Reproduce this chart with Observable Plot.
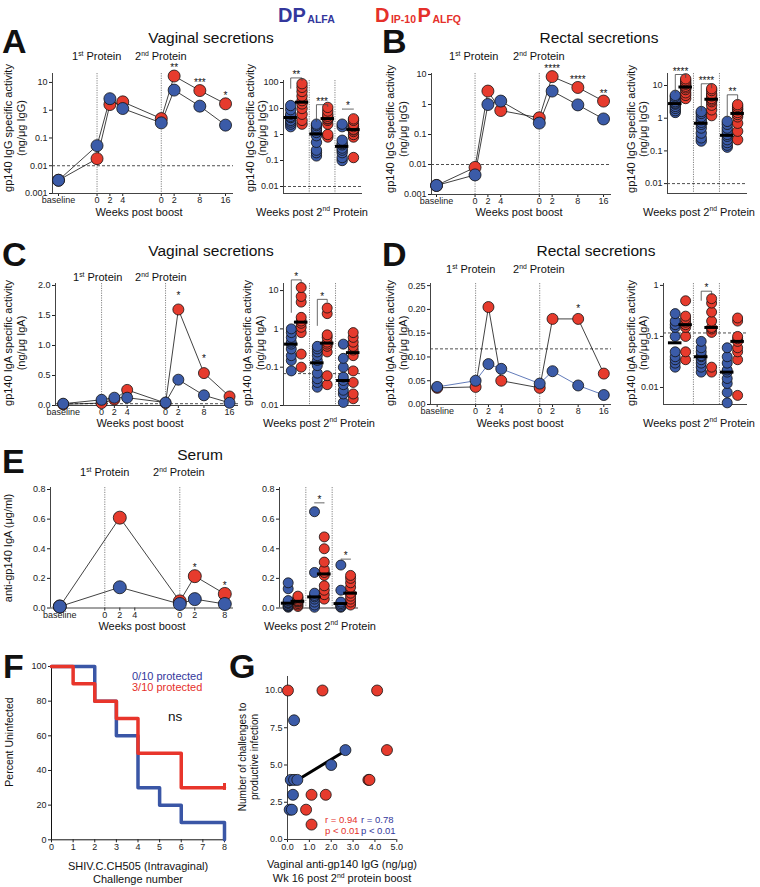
<!DOCTYPE html>
<html><head><meta charset="utf-8">
<script src="https://cdn.jsdelivr.net/npm/d3@7"></script>
<script src="https://cdn.jsdelivr.net/npm/@observablehq/plot@0.6"></script>
<style>
body{margin:0;background:#fff;}
#root{position:relative;width:760px;height:887px;overflow:hidden;font-family:"Liberation Sans",Arial,Helvetica,sans-serif;}
.pl{position:absolute;}
#ov{position:absolute;left:0;top:0;pointer-events:none;}
</style></head><body><div id="root"></div>
<script>
// ---------------- DATA ----------------
// time-course categories (index position on the x axis, tick label)
const tcIdx = [0, 3, 4, 5, 8, 9, 11, 13];
const tcLabels = ["baseline", "0", "2", "4", "0", "2", "8", "16"];
const proteinIdx = [3, 8];

// A: vaginal IgG specific activity (ng/µg IgG), group means
const A_blue = [0.003, 0.053, 2.6, 1.15, 0.35, 5.3, 1.4, 0.29];
const A_red  = [0.003, 0.018, 1.6, 2.0, 0.5, 17, 5.1, 1.7];
const A_sig  = ["", "", "", "", "", "**", "***", "*"];
// A right: individual animals, weeks 2 / 8 / 16 post 2nd protein
const Ad_blue = [[2, 2.5, 3, 3.5, 4.5, 4.5, 5, 6, 9, 13], [0.15, 0.2, 0.25, 0.5, 0.9, 1.2, 1.5, 1.8, 2.2, 2.5], [0.1, 0.13, 0.2, 0.25, 0.3, 0.4, 0.45, 0.6, 2, 2.5]];
const Ad_red  = [[2.5, 3.5, 6, 10, 15, 20, 30, 45, 65, 90], [0.8, 1.0, 2.5, 3.5, 4, 4.2, 5, 6, 8, 11], [0.13, 0.8, 1.0, 1.3, 1.5, 1.6, 2, 2.5, 3.5, 4]];
const Ad_sig  = [{g: 0, top: 150, left: 60, right: 120, label: "**"}, {g: 1, top: 14, left: 3.2, right: 12, label: "***"}, {g: 2, top: 9.5, left: 9.5, right: 9.5, label: "*"}];

// B: rectal IgG
const B_blue = [0.002, 0.0045, 1.0, 1.3, 0.24, 2.8, 0.97, 0.33];
const B_red  = [0.002, 0.008, 2.8, 0.63, 0.36, 8.5, 3.7, 1.3];
const B_sig  = ["", "", "", "", "", "****", "****", "**"];
const Bd_blue = [[1.5, 1.7, 2, 2.3, 2.7, 2.9, 3.2, 3.8, 4.5, 5], [0.2, 0.25, 0.35, 0.5, 0.65, 0.75, 0.9, 1.1, 1.4, 1.6], [0.13, 0.15, 0.18, 0.22, 0.28, 0.32, 0.4, 0.5, 0.65, 0.8]];
const Bd_red  = [[4, 5, 6, 7.5, 8.5, 9.5, 11, 12, 14, 16], [1.2, 1.8, 2.5, 3.2, 3.6, 4, 4.8, 5.5, 7, 8], [0.22, 0.4, 0.7, 1.1, 1.3, 1.5, 1.8, 2, 2.3, 2.6]];
const Bd_sig  = [{g: 0, top: 21.7, left: 6.2, right: 17.6, label: "****"}, {g: 1, top: 11.3, left: 1.7, right: 8.5, label: "****"}, {g: 2, top: 5.2, left: 1.07, right: 3.5, label: "**"}];

// C: vaginal IgA
const C_blue = [0.03, 0.095, 0.13, 0.13, 0.05, 0.43, 0.17, 0.045];
const C_red  = [0.02, 0.04, 0.1, 0.26, 0.04, 1.6, 0.54, 0.15];
const C_sig  = ["", "", "", "", "", "*", "*", ""];
const Cd_blue = [[0.08, 0.15, 0.2, 0.3, 0.4, 0.45, 0.6, 0.8, 1.0], [0.03, 0.04, 0.05, 0.07, 0.11, 0.15, 0.2, 0.25, 0.3, 0.35], [0.012, 0.02, 0.025, 0.035, 0.045, 0.055, 0.1, 0.17, 0.4]];
const Cd_red  = [[0.1, 0.22, 0.8, 1.1, 1.4, 1.6, 2, 5, 7, 12], [0.035, 0.06, 0.25, 0.35, 0.4, 0.45, 0.6, 0.7, 2.5, 3.5], [0.015, 0.02, 0.04, 0.08, 0.2, 0.28, 0.35, 0.45, 0.6, 0.8]];
const Cd_sig  = [{g: 0, top: 19, left: 2.7, right: 16, label: "*"}, {g: 1, top: 5.9, left: 1.23, right: 5, label: "*"}];

// D: rectal IgA
const D_blue = [0.037, 0.05, 0.085, 0.075, 0.044, 0.07, 0.04, 0.02];
const D_red  = [0.035, 0.037, 0.205, 0.05, 0.035, 0.18, 0.18, 0.065];
const D_sig  = ["", "", "", "", "", "", "*", ""];
const Dd_blue = [[0.025, 0.03, 0.035, 0.04, 0.05, 0.1, 0.15, 0.17, 0.2, 0.28], [0.02, 0.025, 0.03, 0.035, 0.04, 0.042, 0.05, 0.06, 0.08], [0.005, 0.008, 0.012, 0.015, 0.02, 0.022, 0.03, 0.04, 0.06]];
const Dd_red  = [[0.035, 0.05, 0.1, 0.15, 0.17, 0.19, 0.22, 0.25, 0.5], [0.02, 0.025, 0.12, 0.14, 0.15, 0.2, 0.3, 0.45, 0.55], [0.007, 0.035, 0.05, 0.06, 0.08, 0.09, 0.1, 0.2, 0.23]];
const Dd_sig  = [{g: 1, top: 0.77, left: 0.51, right: 0.66, label: "*"}];

// E: serum anti-gp140 IgA (µg/ml)
const eIdx = [0, 4, 8, 9, 11];
const eTickIdx = [0, 3, 4, 5, 8, 9, 11];
const eTickLabels = ["baseline", "0", "2", "4", "0", "2", "8"];
const E_blue = [0.01, 0.14, 0.027, 0.06, 0.027];
const E_red  = [0.01, 0.61, 0.045, 0.215, 0.095];
const E_sig  = ["", "", "", "*", "*"];
const Ed_blue = [[0.005, 0.01, 0.015, 0.02, 0.03, 0.035, 0.04, 0.05, 0.13, 0.17], [0.005, 0.02, 0.04, 0.06, 0.075, 0.085, 0.1, 0.24, 0.65], [0.005, 0.01, 0.02, 0.03, 0.04, 0.12, 0.29]];
const Ed_red  = [[0.01, 0.02, 0.03, 0.04, 0.045, 0.05, 0.06, 0.07, 0.08], [0.06, 0.09, 0.12, 0.15, 0.22, 0.24, 0.26, 0.31, 0.4, 0.48], [0.02, 0.04, 0.06, 0.08, 0.1, 0.14, 0.17, 0.2, 0.22]];
const Ed_sig  = [{g: 1, top: 0.71, left: 0.71, right: 0.71, label: "*"}, {g: 2, top: 0.33, left: 0.33, right: 0.33, label: "*"}];

// F: Kaplan-Meier, percent uninfected per challenge
const F_blue_x = [0, 2, 3, 4, 5, 6, 8];
const F_blue_y = [100, 80, 60, 30, 20, 10, 0];
const F_red_x  = [0, 1, 2, 3, 4, 6, 8];
const F_red_y  = [100, 90, 80, 70, 50, 30, 30];

// G: vaginal anti-gp140 IgG (wk16) vs challenges to infection
const G_blue_x = [0.3, 2.65, 2.0, 0.15, 0.3, 0.45, 0.25, 0.1, 0.2];
const G_blue_y = [8, 6, 5, 4, 4, 4, 3, 2, 2];
const G_red_x  = [0.02, 1.6, 4.1, 4.55, 3.7, 3.75, 1.1, 1.75, 0.85, 1.1];
const G_red_y  = [10, 10, 10, 6, 4, 4, 3, 3, 2, 1];

// ---------------- STYLE ----------------
const FONT = '"Liberation Sans", Arial, Helvetica, sans-serif';
const BLUE = "#3b5ba8";
const RED = "#e63b2d";
const BLUE_T = "#33379c";
const RED_T = "#e5302a";
const root = document.getElementById("root");
const styleStr = `background:transparent;overflow:visible;font-family:${FONT};font-size:9px;color:#222;`;

function mount(svg, x, y) {
  const d = document.createElement("div");
  d.className = "pl";
  d.style.left = x + "px"; d.style.top = y + "px";
  d.style.width = svg.getAttribute("width") + "px";
  d.appendChild(svg);
  root.appendChild(d);
}
const logFmt = d => String(d);

function timeCourse(c) {
  const pad = {l: 45, r: 12, t: 45, b: 22};
  const W = c.f[1] - c.f[0], H = c.f[3] - c.f[2];
  const rb = c.idx.map((i, k) => ({i, v: c.blue[k]}));
  const rr = c.idx.map((i, k) => ({i, v: c.red[k], s: c.sig[k]}));
  const svg = Plot.plot({
    width: W + pad.l + pad.r, height: H + pad.t + pad.b,
    marginLeft: pad.l, marginRight: pad.r, marginTop: pad.t, marginBottom: pad.b,
    style: styleStr,
    x: {domain: c.xd, ticks: c.tIdx, tickFormat: d => c.tLab[c.tIdx.indexOf(d)], tickSize: 3, tickPadding: 0.5, label: null},
    y: {type: c.yType, domain: c.yd, ticks: c.yTicks, tickFormat: c.yFmt, tickSize: 3, tickPadding: 2, label: null},
    marks: [
      Plot.ruleX(proteinIdx, {stroke: "#666", strokeDasharray: "1.2,1.2", strokeWidth: 0.8}),
      c.thr != null ? Plot.ruleY([c.thr], {stroke: "#222", strokeDasharray: "3,2", strokeWidth: 0.8}) : null,
      Plot.ruleX([c.xd[0]], {stroke: "#444", strokeWidth: 1}),
      Plot.ruleY([c.yd[0]], {stroke: "#444", strokeWidth: 1}),
      Plot.line(rr, {x: "i", y: "v", stroke: "#111", strokeWidth: 0.8}),
      Plot.line(rb, {x: "i", y: "v", stroke: c.blueLine || "#111", strokeWidth: 0.8}),
      Plot.dot(rr, {x: "i", y: "v", r: c.r, fill: RED, stroke: "#111", strokeWidth: 0.8}),
      Plot.dot(rb, {x: "i", y: "v", r: c.r, fill: BLUE, stroke: "#111", strokeWidth: 0.8}),
      Plot.text(rr.filter(d => d.s), {x: "i", y: "v", text: "s", dy: c.sdy, fontSize: 10, fill: "#111"})
    ].filter(Boolean)
  });
  mount(svg, c.f[0] - pad.l, c.f[2] - pad.t);
}

function dotCols(c) {
  const pad = {l: 40, r: 10, t: 45, b: 15};
  const W = c.f[1] - c.f[0], H = c.f[3] - c.f[2];
  const rb = [], rr = [], med = [];
  c.blue.forEach((vals, g) => {
    vals.forEach(v => rb.push({x: g + c.ob, v}));
    med.push({x: g + c.ob, m: d3.median(vals)});
  });
  c.red.forEach((vals, g) => {
    vals.forEach(v => rr.push({x: g + c.or, v}));
    med.push({x: g + c.or, m: d3.median(vals)});
  });
  const br = [];
  c.sig.forEach((s, k) => {
    const bx = s.g + c.ob, rx = s.g + c.or;
    br.push({k, x: bx, y: s.left}, {k, x: bx, y: s.top}, {k, x: rx, y: s.top}, {k, x: rx, y: s.right});
  });
  const svg = Plot.plot({
    width: W + pad.l + pad.r, height: H + pad.t + pad.b,
    marginLeft: pad.l, marginRight: pad.r, marginTop: pad.t, marginBottom: pad.b,
    style: styleStr,
    x: {domain: c.xd, axis: null},
    y: {type: c.yType, domain: c.yd, ticks: c.yTicks, tickFormat: c.yFmt, tickSize: 3, tickPadding: 2, label: null},
    marks: [
      Plot.ruleX([1, 2], {stroke: "#666", strokeDasharray: "1.2,1.2", strokeWidth: 0.8}),
      c.thr != null ? Plot.ruleY([c.thr], {stroke: "#222", strokeDasharray: "3,2", strokeWidth: 0.8}) : null,
      Plot.ruleX([c.xd[0]], {stroke: "#444", strokeWidth: 1}),
      Plot.ruleY([c.yd[0]], {stroke: "#444", strokeWidth: 1}),
      Plot.dot(rb, {x: "x", y: "v", r: c.r, fill: BLUE, stroke: "#111", strokeWidth: 0.8}),
      Plot.dot(rr, {x: "x", y: "v", r: c.r, fill: RED, stroke: "#111", strokeWidth: 0.8}),
      Plot.ruleY(med, {y: "m", x1: d => d.x - 0.26, x2: d => d.x + 0.26, stroke: "#000", strokeWidth: 3}),
      Plot.line(br, {x: "x", y: "y", z: "k", stroke: "#444", strokeWidth: 0.8}),
      Plot.text(c.sig, {x: d => d.g + (c.ob + c.or) / 2, y: "top", text: "label", dy: -3, fontSize: 10, fill: "#111"})
    ].filter(Boolean)
  });
  mount(svg, c.f[0] - pad.l, c.f[2] - pad.t);
}

// ---------------- PANELS ----------------
const logTicks = [0.001, 0.01, 0.1, 1, 10];
timeCourse({f: [52, 233, 73, 193], xd: [-0.467, 13.62], yType: "log", yd: [0.001, 21], yTicks: logTicks, yFmt: logFmt,
  idx: tcIdx, tIdx: tcIdx, tLab: tcLabels, blue: A_blue, red: A_red, sig: A_sig, thr: 0.01, r: 6, sdy: -8});
dotCols({f: [283, 362, 80, 193], xd: [0, 3.07], yType: "log", yd: [0.00538, 119.4], yTicks: [0.01, 0.1, 1, 10, 100], yFmt: logFmt,
  blue: Ad_blue, red: Ad_red, sig: Ad_sig, ob: 0.28, or: 0.72, thr: 0.01, r: 5.2});

timeCourse({f: [431, 611, 73, 194], xd: [-0.39, 13.62], yType: "log", yd: [0.001, 10.8], yTicks: logTicks, yFmt: logFmt,
  idx: tcIdx, tIdx: tcIdx, tLab: tcLabels, blue: B_blue, red: B_red, sig: B_sig, thr: 0.01, r: 6, sdy: -7.5});
dotCols({f: [667, 747, 73, 193], xd: [0, 3.08], yType: "log", yd: [0.00498, 23.3], yTicks: [0.01, 0.1, 1, 10], yFmt: logFmt,
  blue: Bd_blue, red: Bd_red, sig: Bd_sig, ob: 0.3, or: 0.7, thr: 0.01, r: 5.2});

timeCourse({f: [55, 238, 283, 405], xd: [-0.6, 13.7], yType: "linear", yd: [0, 2.033], yTicks: [0, 0.5, 1, 1.5, 2], yFmt: d3.format(".1f"),
  idx: tcIdx, tIdx: tcIdx, tLab: tcLabels, blue: C_blue, red: C_red, sig: C_sig, thr: 0.03, r: 5.5, sdy: -14});
dotCols({f: [283, 360, 283, 405], xd: [0, 2.96], yType: "log", yd: [0.01, 15.3], yTicks: [0.01, 0.1, 1, 10], yFmt: logFmt,
  blue: Cd_blue, red: Cd_red, sig: Cd_sig, ob: 0.3, or: 0.68, thr: 0.068, r: 5});

timeCourse({f: [430, 611, 283, 404], xd: [-0.52, 13.6], yType: "linear", yd: [0, 0.2545], yTicks: [0, 0.05, 0.1, 0.15, 0.2, 0.25], yFmt: d3.format(".2f"),
  idx: tcIdx, tIdx: tcIdx, tLab: tcLabels, blue: D_blue, red: D_red, sig: D_sig, thr: 0.117, r: 5.5, sdy: -10, blueLine: "#3b5ba8"});
dotCols({f: [663, 747, 283, 404], xd: [-0.15, 3.08], yType: "log", yd: [0.00464, 1.09], yTicks: [0.01, 0.1, 1], yFmt: logFmt,
  blue: Dd_blue, red: Dd_red, sig: Dd_sig, ob: 0.3, or: 0.7, thr: 0.117, r: 5});

timeCourse({f: [50, 233, 487, 607.5], xd: [-0.62, 11.58], yType: "linear", yd: [0, 0.8136], yTicks: [0, 0.2, 0.4, 0.6, 0.8], yFmt: d3.format(".1f"),
  idx: eIdx, tIdx: eTickIdx, tLab: eTickLabels, blue: E_blue, red: E_red, sig: E_sig, thr: null, r: 6.5, sdy: -8});
dotCols({f: [279, 358, 487, 607.5], xd: [0, 3], yType: "linear", yd: [0, 0.8136], yTicks: [0, 0.2, 0.4, 0.6, 0.8], yFmt: d3.format(".1f"),
  blue: Ed_blue, red: Ed_red, sig: Ed_sig, ob: 0.33, or: 0.7, thr: null, r: 5});

// F
(function () {
  const f = [51, 224, 665.7, 839], pad = {l: 40, r: 12, t: 15, b: 22};
  const rb = F_blue_x.map((x, k) => ({x, y: F_blue_y[k]}));
  const rr = F_red_x.map((x, k) => ({x, y: F_red_y[k]}));
  const svg = Plot.plot({
    width: f[1] - f[0] + pad.l + pad.r, height: f[3] - f[2] + pad.t + pad.b,
    marginLeft: pad.l, marginRight: pad.r, marginTop: pad.t, marginBottom: pad.b,
    style: styleStr,
    x: {domain: [0, 8], ticks: d3.range(0, 9), tickSize: 3, tickPadding: 1, label: null},
    y: {domain: [0, 100], ticks: [0, 20, 40, 60, 80, 100], tickSize: 3, tickPadding: 2, label: null},
    marks: [
      Plot.ruleX([0], {stroke: "#111", strokeWidth: 1}),
      Plot.ruleY([0], {stroke: "#111", strokeWidth: 1}),
      Plot.line(rb, {x: "x", y: "y", curve: "step-after", stroke: "#3a56a6", strokeWidth: 3.5}),
      Plot.line(rr, {x: "x", y: "y", curve: "step-after", stroke: "#e8352b", strokeWidth: 3.5}),
      Plot.ruleX(rr.slice(-1), {x: "x", y1: d => d.y - 1.5, y2: d => d.y + 2.5, stroke: "#e8352b", strokeWidth: 3})
    ]
  });
  mount(svg, f[0] - pad.l, f[2] - pad.t);
})();

// G
(function () {
  const f = [286.7, 396, 676, 839], pad = {l: 40, r: 12, t: 15, b: 22};
  const rb = G_blue_x.map((x, k) => ({x, y: G_blue_y[k]}));
  const rr = G_red_x.map((x, k) => ({x, y: G_red_y[k]}));
  const svg = Plot.plot({
    width: f[1] - f[0] + pad.l + pad.r, height: f[3] - f[2] + pad.t + pad.b,
    marginLeft: pad.l, marginRight: pad.r, marginTop: pad.t, marginBottom: pad.b,
    style: styleStr,
    x: {domain: [0, 5], ticks: [0, 1, 2, 3, 4, 5], tickSize: 3, tickPadding: 1, label: null},
    y: {domain: [0, 10.94], ticks: [0, 2.5, 5, 7.5, 10], tickFormat: d3.format(".1f"), tickSize: 3, tickPadding: 2, label: null},
    marks: [
      Plot.ruleX([0], {stroke: "#444", strokeWidth: 1}),
      Plot.ruleY([0], {stroke: "#444", strokeWidth: 1}),
      Plot.linearRegressionY(rb, {x: "x", y: "y", stroke: "#000", strokeWidth: 3, ci: 0}),
      Plot.dot(rr, {x: "x", y: "y", r: 5.5, fill: RED, stroke: "#111", strokeWidth: 0.8}),
      Plot.dot(rb, {x: "x", y: "y", r: 5.5, fill: BLUE, stroke: "#111", strokeWidth: 0.8})
    ]
  });
  mount(svg, f[0] - pad.l, f[2] - pad.t);
})();

// ---------------- TEXT OVERLAY ----------------
const ov = d3.select(root).append("svg").attr("id", "ov").attr("width", 760).attr("height", 887)
  .style("font-family", FONT);
function txt(x, y, parts, o = {}) {
  const size = o.size || 11;
  const t = ov.append("text").attr("x", x).attr("y", y).attr("font-size", size)
    .attr("text-anchor", o.anchor || "start").attr("fill", o.fill || "#111")
    .attr("font-weight", o.weight || "normal");
  if (o.rotate) t.attr("transform", `rotate(-90 ${x} ${y})`);
  if (!Array.isArray(parts)) parts = [parts];
  let shift = 0;
  parts.forEach(p => {
    const s = typeof p === "string" ? {t: p} : p;
    const target = s.sup ? -size * 0.38 : s.sub ? size * (o.subShift ?? 0.2) : 0;
    t.append("tspan").attr("dy", target - shift)
      .attr("font-size", (s.sup || s.sub) ? size * (o.subScale || 0.62) : size).text(s.t);
    shift = target;
  });
  return t;
}
// sequence of separate text pieces laid out left to right (for the header)
function seq(x, y, pieces, fill) {
  let cx = x;
  pieces.forEach(([s, size, dy]) => {
    const t = ov.append("text").attr("x", cx).attr("y", y + dy).attr("font-size", size)
      .attr("font-weight", "bold").attr("fill", fill).text(s);
    cx += t.node().getComputedTextLength() + 1.5;
  });
}
const sup1 = ["1", {t: "st", sup: true}, " Protein"];
const sup2 = ["2", {t: "nd", sup: true}, " Protein"];
const wk2 = ["Weeks post 2", {t: "nd", sup: true}, " Protein"];

// header
seq(278, 22, [["DP", 20, 0], ["ALFA", 10.5, 1]], BLUE_T);
seq(375, 22, [["D", 20, 0], ["IP-10", 10.5, 1], ["P", 20, 0], ["ALFQ", 10.5, 1]], RED_T);

// panel letters
[["A", 2, 53], ["B", 382, 53], ["C", 2, 266], ["D", 382, 266], ["E", 2, 473], ["F", 3, 678], ["G", 229, 678]]
  .forEach(([l, x, y]) => txt(x, y, l, {size: 34, weight: "bold"}));

// titles
txt(211, 43, "Vaginal secretions", {size: 15.5, anchor: "middle"});
txt(599, 43, "Rectal secretions", {size: 15.5, anchor: "middle"});
txt(211, 256, "Vaginal secretions", {size: 15.5, anchor: "middle"});
txt(596, 256, "Rectal secretions", {size: 15.5, anchor: "middle"});
txt(200, 460, "Serum", {size: 15.5, anchor: "middle"});

// protein labels
[[72, 135, 60], [449, 513, 60], [73, 135, 281], [446, 513, 273], [80, 153, 476]].forEach(([x1, x2, y]) => {
  txt(x1, y, sup1, {size: 11}); txt(x2, y, sup2, {size: 11});
});

// x labels
[[139, 215.5], [519, 215.5], [140, 426.5], [520, 426.5], [142, 629.5]].forEach(([x, y]) => txt(x, y, "Weeks post boost", {size: 11, anchor: "middle"}));
[[312, 215.5], [699, 215.5], [319, 426.5], [699, 426.5], [320, 629.5]].forEach(([x, y]) => txt(x, y, wk2, {size: 11, anchor: "middle"}));

// y labels
const igg = ["gp140 IgG specific activity", "(ng/\u03bcg IgG)"];
const iga = ["gp140 IgA specific activity", "(ng/\u03bcg IgA)"];
[[12, 25, 128, igg], [254, 266, 128, igg], [394, 407, 129, igg], [635, 647, 129, igg],
 [12, 25, 343, iga], [251, 264, 343, iga], [394, 407, 343, iga], [635, 647, 343, iga]]
  .forEach(([x1, x2, y, L]) => { txt(x1, y, L[0], {size: 11, anchor: "middle", rotate: true}); txt(x2, y, L[1], {size: 11, anchor: "middle", rotate: true}); });
txt(12, 548, "anti-gp140 IgA (\u03bcg/ml)", {size: 11, anchor: "middle", rotate: true});
txt(13, 742, "Percent Uninfected", {size: 10.5, anchor: "middle", rotate: true});
txt(246, 757, "Number of challenges to", {size: 10, anchor: "middle", rotate: true});
txt(258, 757, "productive infection", {size: 10, anchor: "middle", rotate: true});

// F texts
txt(132, 680, "0/10 protected", {size: 11, fill: BLUE_T});
txt(132, 691, "3/10 protected", {size: 11, fill: RED_T});
txt(168, 721, "ns", {size: 13.5});
txt(138, 870, "SHIV.C.CH505 (Intravaginal)", {size: 11, anchor: "middle"});
txt(138, 883, "Challenge number", {size: 11, anchor: "middle"});

// G texts
txt(325, 823, "r =  0.94", {size: 9.5, fill: RED_T});
txt(325, 834, "p < 0.01", {size: 9.5, fill: RED_T});
txt(361, 823, "r =  0.78", {size: 9.5, fill: BLUE_T});
txt(361, 834, "p < 0.01", {size: 9.5, fill: BLUE_T});
txt(342, 868, "Vaginal anti-gp140 IgG (ng/\u03bcg)", {size: 11, anchor: "middle"});
txt(342, 882, ["Wk 16 post 2", {t: "nd", sup: true}, " protein boost"], {size: 11, anchor: "middle"});
</script></body></html>
